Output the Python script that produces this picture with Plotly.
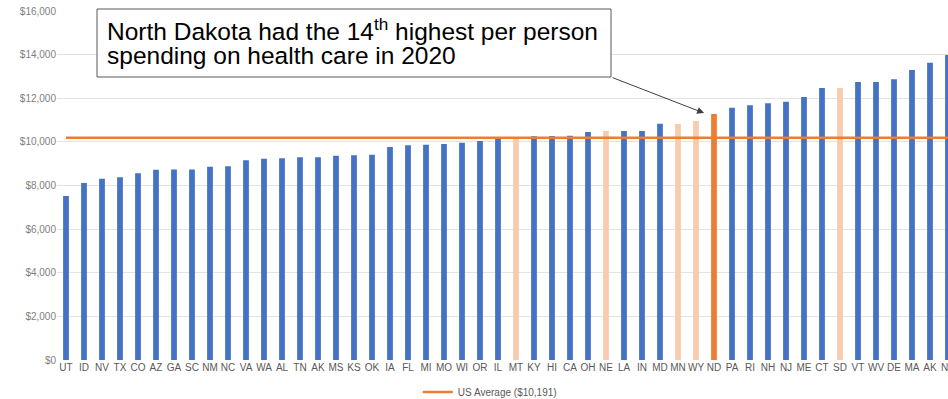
import plotly.graph_objects as go

states = ["UT", "ID", "NV", "TX", "CO", "AZ", "GA", "SC", "NM", "NC",
          "VA", "WA", "AL", "TN", "AK", "MS", "KS", "OK", "IA", "FL",
          "MI", "MO", "WI", "OR", "IL", "MT", "KY", "HI", "CA", "OH",
          "NE", "LA", "IN", "MD", "MN", "WY", "ND", "PA", "RI", "NH",
          "NJ", "ME", "CT", "SD", "VT", "WV", "DE", "MA", "AK", "NY"]
spending = [7522, 8115, 8313, 8374, 8558, 8725, 8728, 8730, 8863, 8878,
            9153, 9229, 9245, 9290, 9292, 9367, 9382, 9413, 9765, 9840,
            9871, 9903, 9963, 10040, 10147, 10208, 10254, 10269, 10284, 10453,
            10499, 10500, 10502, 10830, 10825, 10957, 11278, 11568, 11675, 11766,
            11843, 12057, 12470, 12472, 12745, 12747, 12868, 13295, 13631, 13983]
neighbors = ["MT", "NE", "MN", "WY", "SD"]
highlight = "ND"
us_average = 10191
y_ticks = [0, 2000, 4000, 6000, 8000, 10000, 12000, 14000, 16000]
y_tick_labels = ["$" + format(v, ",") for v in y_ticks]

BLUE = "#4472C4"
LIGHT = "#F8CBAD"
ORANGE = "#ED7D31"

xs = list(range(len(states)))
colors = [ORANGE if s == highlight else (LIGHT if s in neighbors else BLUE) for s in states]

fig = go.Figure()
fig.add_trace(go.Bar(x=xs, y=spending, marker=dict(color=colors, line=dict(width=0)),
                     width=0.32, showlegend=False, hoverinfo="y"))
fig.add_trace(go.Scatter(x=xs, y=[us_average] * len(xs), mode="lines",
                         line=dict(color=ORANGE, width=2.5),
                         name="US Average ($10,191)"))

fig.update_layout(
    width=948, height=399,
    margin=dict(l=57, r=0, t=11, b=39, autoexpand=False),
    plot_bgcolor="white", paper_bgcolor="white",
    font=dict(family="Liberation Sans, Arial, sans-serif", color="#595959", size=10),
    showlegend=True,
    legend=dict(orientation="h", x=0.405, xanchor="left", y=-0.092, yanchor="middle",
                font=dict(size=10, color="#595959"), itemwidth=30),
    xaxis=dict(range=[-0.5, 49], tickmode="array", tickvals=xs, ticktext=states,
               tickangle=0, automargin=False, ticklabeloverflow="allow",
               showgrid=False, zeroline=False, showline=False, ticks="",
               tickfont=dict(size=10, color="#595959")),
    yaxis=dict(range=[0, 16000], tickmode="array", tickvals=y_ticks, ticktext=y_tick_labels,
               automargin=False,
               showgrid=True, gridcolor="#E3E3E3", gridwidth=1, zeroline=False,
               showline=False, ticks="", tickfont=dict(size=10, color="#808080")),
    bargap=0.6,
)

# annotation box
fig.add_shape(type="rect", xref="paper", yref="paper",
              x0=(97 - 57) / 891, x1=(611 - 57) / 891,
              y0=(360 - 77) / 349, y1=(360 - 9) / 349,
              line=dict(color="#595959", width=1), fillcolor="white", layer="above")
fig.add_annotation(xref="paper", yref="paper", x=(105 - 57) / 891, y=(360 - 29) / 349,
                   xanchor="left", yanchor="middle", showarrow=False,
                   text="North Dakota had the 14<sup>th</sup> highest per person",
                   font=dict(family="Liberation Sans, Arial, sans-serif", size=24.5, color="black"))
fig.add_annotation(xref="paper", yref="paper", x=(105 - 57) / 891, y=(360 - 56) / 349,
                   xanchor="left", yanchor="middle", showarrow=False,
                   text="spending on health care in 2020",
                   font=dict(family="Liberation Sans, Arial, sans-serif", size=24.5, color="black"))
# arrow
fig.add_annotation(xref="x", yref="y", x=35.45, y=11320, ax=-93, ay=-36,
                   text="", showarrow=True, arrowhead=2, arrowsize=1.4,
                   arrowwidth=1, arrowcolor="#404040")

fig.write_html("out.html")
